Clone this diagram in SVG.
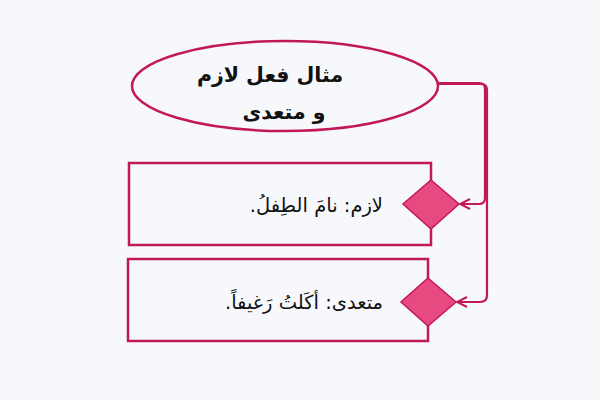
<svg xmlns="http://www.w3.org/2000/svg" width="600" height="400" viewBox="0 0 600 400">
<defs>
<style>
.node{fill:#f7f8fb;stroke:#c2185b;stroke-width:2.5}
.dia{fill:#e64a80;stroke:#c2185b;stroke-width:1.5}
.lbl{font-family:"DejaVu Sans","Noto Sans",sans-serif;font-size:19.5px;fill:#111;direction:rtl}
.title{font-family:"DejaVu Sans","Noto Sans",sans-serif;fill:#111;font-weight:bold;font-size:20.5px}
.conn{fill:none;stroke:#c2185b;stroke-width:2.2}
</style>
<marker id="arr" viewBox="0 0 12 12" refX="11" refY="6" markerWidth="12" markerHeight="12" markerUnits="userSpaceOnUse" orient="auto">
<path d="M1,1 L11,6 L1,11" fill="none" stroke="#c2185b" stroke-width="2"/>
</marker>
</defs>
<rect width="600" height="400" fill="#f7f8fb"/>
<g id="connectors">
<path class="conn" d="M438,83 H479 Q485,83 485,89 V198 Q485,204 479,204 H460" marker-end="url(#arr)"/>
<path class="conn" d="M438,84 H481 Q487,84 487,90 V295 Q487,302 480,302 H457" marker-end="url(#arr)"/>
</g>
<g id="title">
<ellipse class="node" cx="285" cy="86" rx="153" ry="45"/>
<text class="title" x="270" y="82" text-anchor="middle">مثال فعل لازم</text>
<text class="title" x="284" y="119" text-anchor="middle">و متعدی</text>
</g>
<g id="lazim">
<rect class="node" x="129" y="163" width="302" height="82"/>
<polygon class="dia" points="431,180 459,204 431,229 403,204"/>
<text class="lbl" x="383" y="212" text-anchor="start">لازم: نامَ الطِفلُ.</text>
</g>
<g id="mutaddi">
<rect class="node" x="128" y="259" width="300" height="82"/>
<polygon class="dia" points="428,278 456,302 428,326 401,302"/>
<text class="lbl" x="383" y="309" text-anchor="start">متعدی: أكَلتُ رَغيفاً.</text>
</g>
</svg>
